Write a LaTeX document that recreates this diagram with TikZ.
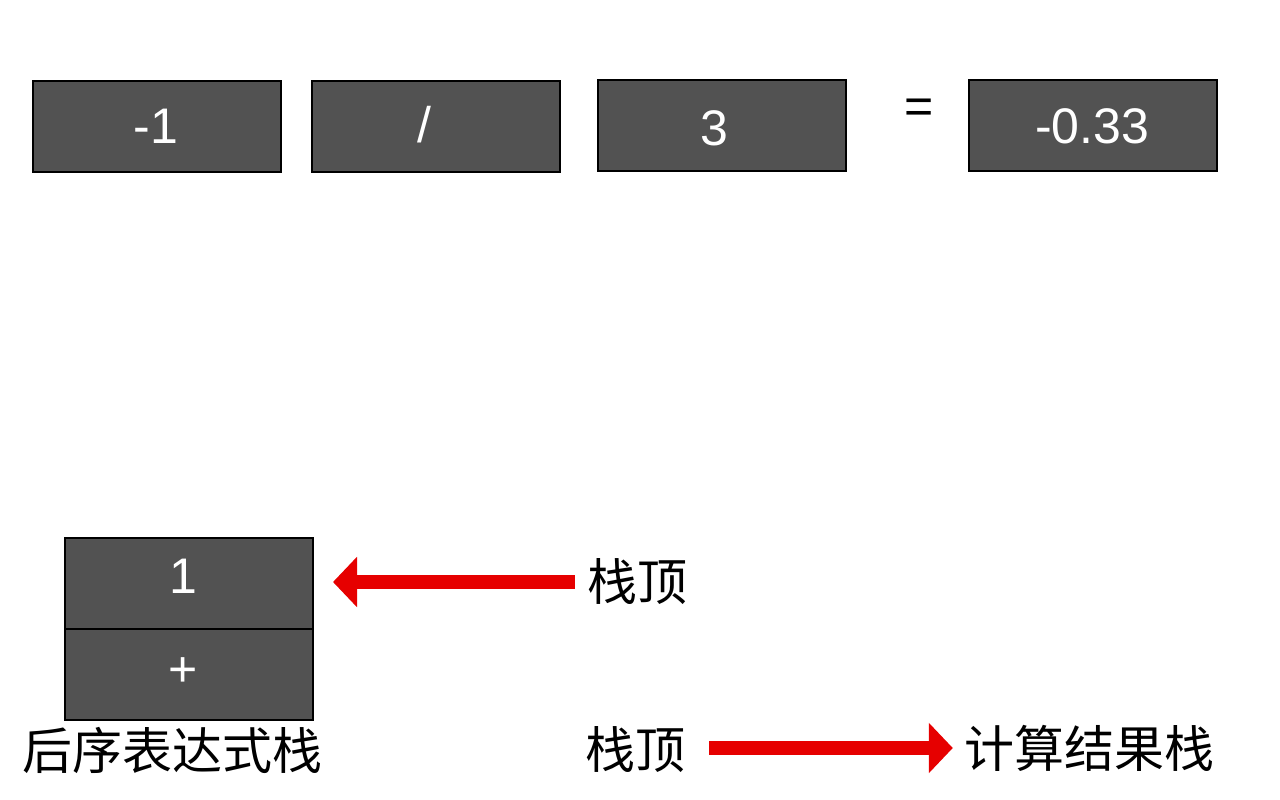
\documentclass[tikz,border=0pt]{standalone}
\usepackage{fontspec}
\setmainfont{Liberation Sans}
\newfontfamily\cjk{Noto Sans CJK SC}
\usetikzlibrary{arrows.meta}
\definecolor{boxgray}{RGB}{82,82,82}
\definecolor{arrowred}{RGB}{230,0,0}
\tikzset{
  cell/.style={draw=black, line width=2pt, fill=boxgray, minimum width=248pt, minimum height=91pt, inner sep=0pt, anchor=north west},
  celltext/.style={text=white, font=\fontsize{50}{50}\selectfont, inner sep=0pt},
  cjklabel/.style={text=black, font=\cjk\fontsize{50}{50}\selectfont, inner sep=0pt},
  bigarrow/.style={draw=arrowred, line width=14.5pt, -{Triangle[length=24pt, width=49pt]}}
}
\begin{document}
\begin{tikzpicture}[x=1pt, y=-1pt]
\useasboundingbox (0,0) rectangle (1280,800);
% top row
\node[cell] (b1) at (32,80) {};
\node[cell] (b2) at (311,80) {};
\node[cell] (b3) at (597,79) {};
\node[cell] (b4) at (968,79) {};
\node[celltext] (n1) at (156,126) {-1};
\node[celltext] (op) at (424,124.5) {/};
\node[celltext] (n3) at (714,128) {3};
\node[text=black, font=\fontsize{50}{50}\selectfont, inner sep=0pt] (eq) at (919,111) {=};
\node[celltext] (res) at (1092,126) {-0.33};
% stack
\node[cell] (s1) at (64,537) {};
\node[cell] (s2) at (64,628) {};
\node[celltext] (s1t) at (183,576) {1};
\node[celltext] (s2t) at (183,672) {+};
\node[cjklabel] (slabel) at (173,750) {后序表达式栈};
% labels
\node[cjklabel] (t1) at (637,582) {栈顶};
\node[cjklabel] (t2) at (635,750) {栈顶};
\node[cjklabel] (r) at (1089,748) {计算结果栈};
% arrows
\draw[bigarrow, shorten <=12pt, shorten >=19pt] (t1.west) -- (t1.west -| s1.east);
\draw[bigarrow, shorten <=24pt, shorten >=11pt] (t2.east |- r.west) -- (r.west);
\end{tikzpicture}
\end{document}
